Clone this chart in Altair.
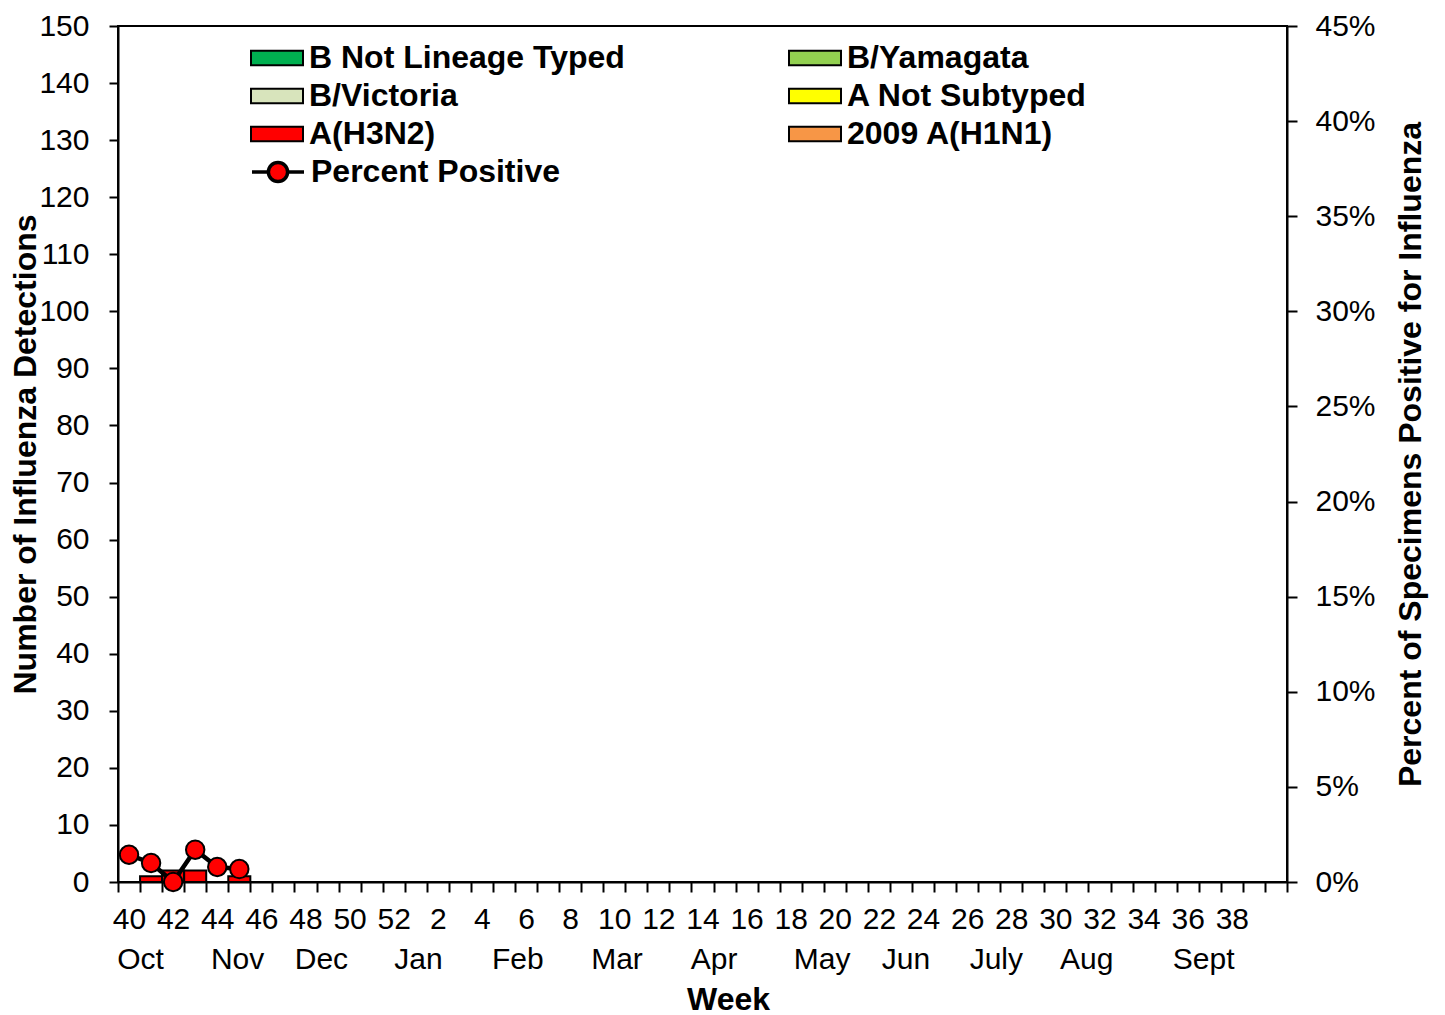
import json
import altair as alt
import pandas as pd

# ---------------- data ----------------
week_labels = [str(w) for w in list(range(40, 53)) + list(range(1, 41))]  # 53 weekly categories
reported_weeks = ["40", "41", "42", "43", "44", "45"]

# legend is filled column by column: (col 1) B Not Lineage Typed, B/Victoria, A(H3N2);
# (col 2) B/Yamagata, A Not Subtyped, 2009 A(H1N1)
series = ["B Not Lineage Typed", "B/Victoria", "A(H3N2)",
          "B/Yamagata", "A Not Subtyped", "2009 A(H1N1)"]
colors = ["#00B050", "#D8E4BC", "#FF0000", "#92D050", "#FFFF00", "#F79646"]

b_not_lineage = [0, 0, 0, 0, 0, 0]
b_victoria = [0, 0, 0, 0, 0, 0]
a_h3n2 = [0, 1, 2, 2, 0, 1]
b_yamagata = [0, 0, 0, 0, 0, 0]
a_not_subtyped = [0, 0, 0, 0, 0, 0]
h1n1_2009 = [0, 0, 0, 0, 0, 0]

pct_positive = [1.43, 1.00, 0.00, 1.70, 0.79, 0.68]  # percent

month_labels = ["Oct", "Nov", "Dec", "Jan", "Feb", "Mar", "Apr",
                "May", "Jun", "July", "Aug", "Sept"]
# month label anchor, in week-category units along the axis
month_anchor = [1.0, 5.4, 9.2, 13.6, 18.1, 22.6, 27.0, 31.9, 35.7, 39.8, 43.9, 49.2]

# ---------------- tables ----------------
series_values = [b_not_lineage, b_victoria, a_h3n2, b_yamagata, a_not_subtyped, h1n1_2009]
rows = []
for order, (s, vals) in enumerate(zip(series, series_values)):
    for wk, v in zip(reported_weeks, vals):
        idx = week_labels.index(wk)
        if v > 0:
            rows.append({"week": wk, "x0": idx, "x1": idx + 1, "series": s,
                         "order": order, "count": v})
df_bar = pd.DataFrame(rows)

df_pct = pd.DataFrame({
    "week": reported_weeks,
    "xc": [week_labels.index(w) + 0.5 for w in reported_weeks],
    "pct": [p / 100 for p in pct_positive],
    "key": ["Percent Positive"] * len(reported_weeks),
})

FONT = "Liberation Sans"
n_weeks = len(week_labels)

x_scale = alt.Scale(domain=[0, n_weeks], nice=False, zero=False, padding=0)

week_axis = alt.Axis(
    orient="bottom",
    values=list(range(n_weeks + 1)),
    labelExpr=f"(datum.value % 2 == 0 && datum.value < {n_weeks - 1}) ? {json.dumps(week_labels)}[datum.value] : ''",
    labelOffset=11, labelFlush=False, labelOverlap=False,
    tickSize=10, labelPadding=12, labelFontSize=30, title=None,
)

month_axis = alt.Axis(
    orient="bottom",
    values=month_anchor,
    labelExpr=f"{json.dumps(month_labels)}[indexof({json.dumps(month_anchor)}, datum.value)]",
    ticks=False, tickSize=0, domain=False,
    labelFlush=False, labelOverlap=False,
    labelPadding=62, labelFontSize=30,
    title="Week", titleFontSize=32, titleFontWeight="bold",
    titleX=610, titlePadding=10,
)

left_axis = alt.Axis(
    orient="left", values=list(range(0, 151, 10)),
    tickSize=9, labelPadding=20, labelFontSize=30,
    title="Number of Influenza Detections", titleFontSize=32,
    titleFontWeight="bold", titlePadding=-4,
)

right_axis = alt.Axis(
    orient="right", values=[v / 100 for v in range(0, 46, 5)], format=".0%",
    tickSize=10, labelPadding=18, labelFontSize=30,
    title="Percent of Specimens Positive for Influenza", titleFontSize=32,
    titleFontWeight="bold", titleAngle=270, titlePadding=52,
)

rect_path = "M-1,-0.28H1V0.28H-1Z"
line_circle_path = ("M-1,0H-0.37M0.37,0H1"
                    "M0.37,0A0.37,0.37,0,1,1,-0.37,0A0.37,0.37,0,1,1,0.37,0Z")

legend_bars = alt.Legend(
    title=None, orient="none", legendX=132, legendY=16,
    columns=2, columnPadding=163, rowPadding=6, clipHeight=32,
    symbolType=rect_path, symbolSize=2704,
    symbolStrokeColor="black", symbolStrokeWidth=2, symbolOpacity=1,
    labelFont=FONT, labelFontSize=32, labelFontWeight="bold",
    labelLimit=700, labelOffset=5, labelColor="black",
)

legend_pct = alt.Legend(
    title=None, orient="none", legendX=132, legendY=130, clipHeight=32,
    symbolType=line_circle_path, symbolSize=2704,
    symbolStrokeColor="black", symbolStrokeWidth=3.5, symbolOpacity=1,
    labelFont=FONT, labelFontSize=32, labelFontWeight="bold",
    labelLimit=700, labelOffset=5, labelColor="black",
)

bars = alt.Chart(df_bar).transform_stack(
    stack="count", groupby=["x0"], sort=[alt.SortField("order")], as_=["y0", "y1"]
).mark_bar(stroke="black", strokeWidth=2, orient="vertical").encode(
    x=alt.X("x0:Q", scale=x_scale, axis=week_axis),
    x2="x1:Q",
    y=alt.Y("y1:Q", scale=alt.Scale(domain=[0, 150], nice=False, padding=0),
            axis=left_axis),
    y2="y0:Q",
    color=alt.Color("series:N", scale=alt.Scale(domain=series, range=colors),
                    legend=legend_bars),
)

y2_scale = alt.Scale(domain=[0, 0.45], nice=False, padding=0)

line = alt.Chart(df_pct).mark_line(color="black", strokeWidth=4.5).encode(
    x=alt.X("xc:Q", scale=x_scale, axis=month_axis),
    y=alt.Y("pct:Q", scale=y2_scale, axis=right_axis),
)

points = alt.Chart(df_pct).mark_circle(size=340, stroke="black", strokeWidth=2, opacity=1).encode(
    x=alt.X("xc:Q", scale=x_scale, axis=month_axis),
    y=alt.Y("pct:Q", scale=y2_scale, axis=right_axis),
    fill=alt.Fill("key:N", scale=alt.Scale(domain=["Percent Positive"], range=["#FF0000"]),
                  legend=legend_pct),
)

chart = alt.layer(
    bars, alt.layer(line, points)
).resolve_scale(
    y="independent"
).resolve_axis(
    x="independent", y="independent"
).properties(
    width=1169, height=856,
    autosize=alt.AutoSizeParams(type="none"),
    padding={"left": 110, "top": 18, "right": 150, "bottom": 133},
    background="white",
).configure_view(
    stroke="black", strokeWidth=2
).configure_axis(
    grid=False, domainColor="black", domainWidth=2,
    tickColor="black", tickWidth=2,
    labelColor="black", titleColor="black",
    labelFont=FONT, titleFont=FONT,
)

chart.save("out.html", embed_options={"renderer": "svg", "actions": False})
